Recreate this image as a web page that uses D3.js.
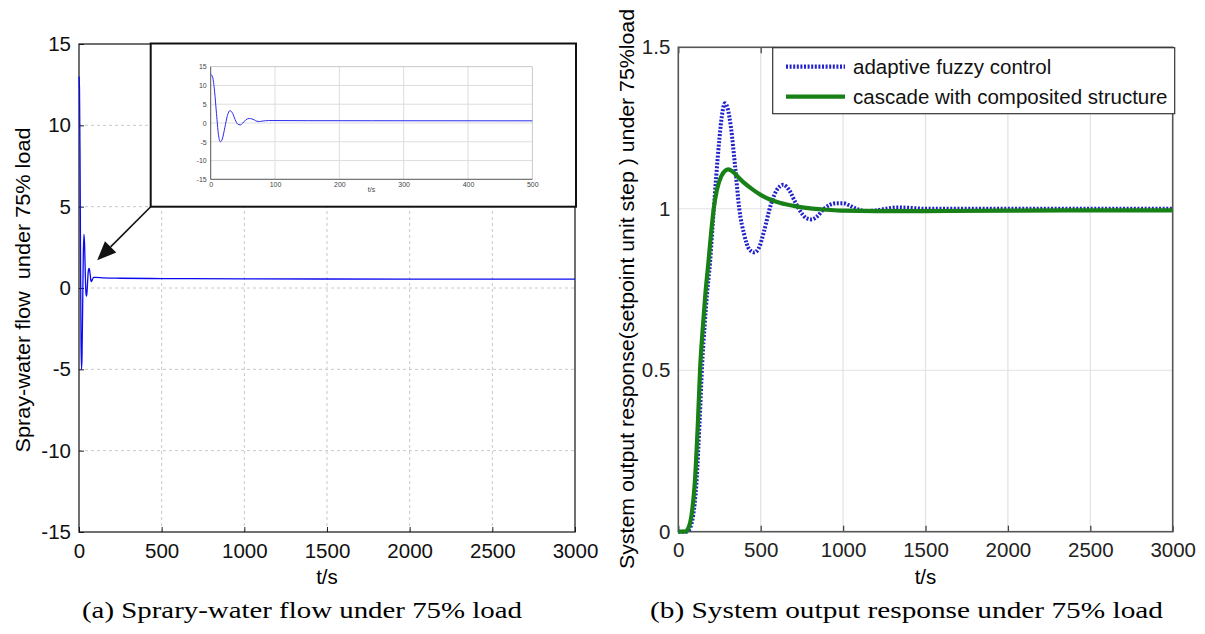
<!DOCTYPE html>
<html>
<head>
<meta charset="utf-8">
<script src="https://cdn.jsdelivr.net/npm/d3@7"></script>
<style>
  body { margin: 0; background: #fff; }
  text { font-family: "Liberation Sans", Arial, sans-serif; }
</style>
</head>
<body>
<script>
'use strict';

// ---- data ----

// (a) spray-water flow, blue curve
const sprayT = [0, 3, 6, 9, 12, 15, 18, 22, 26, 30, 34, 38, 42, 46, 50, 55, 60, 64, 68, 72, 76, 80, 85, 90, 100, 150, 250, 500, 1000, 2000, 3000];
const sprayV = [13.0, 12.2, 8.5, 2.5, -3.0, -5.0, -4.3, -1.2, 2.0, 3.3, 2.6, 0.9, -0.3, -0.5, 0.0, 0.9, 1.2, 1.1, 0.8, 0.45, 0.4, 0.5, 0.6, 0.65, 0.65, 0.62, 0.6, 0.58, 0.56, 0.55, 0.55];

// (b) step response, adaptive fuzzy control (blue dotted)
const fuzzyT = [0, 50, 70, 90, 110, 130, 145, 160, 175, 192, 210, 230, 250, 265, 283, 300, 320, 345, 370, 400, 430, 461, 490, 520, 560, 600, 637, 670, 710, 750, 780, 809, 840, 880, 920, 960, 1001, 1040, 1080, 1143, 1200, 1260, 1320, 1400, 1500, 1700, 2000, 2500, 3000];
const fuzzyV = [0, 0, 0.01, 0.05, 0.15, 0.35, 0.52, 0.64, 0.74, 0.83, 0.96, 1.1, 1.22, 1.29, 1.327, 1.31, 1.25, 1.13, 1.0, 0.92, 0.875, 0.865, 0.88, 0.93, 1.01, 1.06, 1.074, 1.06, 1.02, 0.985, 0.97, 0.967, 0.975, 0.998, 1.012, 1.017, 1.017, 1.01, 1.0, 0.993, 0.995, 1.0, 1.004, 1.003, 1.0, 1.0, 1.0, 1.0, 1.0];

// (b) cascade with composited structure (green solid)
const cascadeT = [0, 40, 60, 80, 100, 120, 132, 150, 165, 182, 200, 215, 235, 260, 285, 303, 330, 360, 400, 450, 500, 560, 620, 700, 800, 900, 1000, 1200, 1500, 2000, 2500, 3000];
const cascadeV = [0, 0, 0.01, 0.05, 0.15, 0.35, 0.5, 0.64, 0.74, 0.83, 0.93, 1.0, 1.06, 1.1, 1.118, 1.122, 1.115, 1.1, 1.08, 1.06, 1.043, 1.028, 1.018, 1.009, 1.001, 0.997, 0.994, 0.993, 0.993, 0.994, 0.995, 0.995];

// ticks
const xTicks = [0, 500, 1000, 1500, 2000, 2500, 3000];
const yTicksA = [-15, -10, -5, 0, 5, 10, 15];
const yTicksB = [0, 0.5, 1, 1.5];
const insetXTicks = [0, 100, 200, 300, 400, 500];

// texts
const legendNames = ["adaptive fuzzy control", "cascade with composited structure"];
const captionA = "(a) Sprary-water flow under 75% load";
const captionB = "(b) System output response under 75% load";

const W = 1205, H = 634;
const FS = 20.5;
const plain = function(d) { return String(d); };

let svg = d3.select("body").append("svg")
    .attr("width", W)
    .attr("height", H);

function toPoints(ts, vs) {
    return ts.map(function(t, i) { return {t: t, v: vs[i]}; });
}

// ================= panel (a) =================
function panelA() {
    let x = d3.scaleLinear().domain([0, 3000]).range([79, 575]);
    let y = d3.scaleLinear().domain([-15, 15]).range([532, 44]);
    let g = svg.append("g");

    // dashed grid
    g.append("g").selectAll("line").data(xTicks.slice(1, -1)).enter().append("line")
        .attr("x1", x).attr("x2", x).attr("y1", y(-15)).attr("y2", y(15))
        .attr("stroke", "#c8c8c8").attr("stroke-dasharray", "3,3");
    g.append("g").selectAll("line").data(yTicksA.slice(1, -1)).enter().append("line")
        .attr("y1", y).attr("y2", y).attr("x1", x(0)).attr("x2", x(3000))
        .attr("stroke", "#c8c8c8").attr("stroke-dasharray", "3,3");

    // axes
    let ax = g.append("g").attr("transform", "translate(0," + y(-15) + ")")
        .call(d3.axisBottom(x).tickValues(xTicks).tickSize(-5).tickPadding(11).tickFormat(plain));
    let ay = g.append("g").attr("transform", "translate(" + x(0) + ",0)")
        .call(d3.axisLeft(y).tickValues(yTicksA).tickSize(-5).tickPadding(8).tickFormat(plain));
    [ax, ay].forEach(function(a) {
        a.select(".domain").remove();
        a.selectAll("text").style("font-size", FS + "px").attr("fill", "#111");
        a.selectAll("line").attr("stroke", "#222");
    });

    // frame
    g.append("rect")
        .attr("x", x(0)).attr("y", y(15))
        .attr("width", x(3000) - x(0)).attr("height", y(-15) - y(15))
        .attr("fill", "none").attr("stroke", "#111").attr("stroke-width", 1.2);

    // curve
    let line = d3.line()
        .x(function(d) { return x(d.t); })
        .y(function(d) { return y(d.v); })
        .curve(d3.curveMonotoneX);
    g.append("path")
        .datum(toPoints(sprayT, sprayV))
        .attr("d", line)
        .attr("fill", "none")
        .attr("stroke", "#0a0af0")
        .attr("stroke-width", 1.3);

    // labels
    g.append("text")
        .attr("x", (x(0) + x(3000)) / 2).attr("y", 584)
        .attr("text-anchor", "middle").style("font-size", FS + "px")
        .text("t/s");
    g.append("text")
        .attr("transform", "translate(30,290) rotate(-90)")
        .attr("text-anchor", "middle").style("font-size", FS + "px")
        .style("white-space", "pre")
        .attr("textLength", 325).attr("lengthAdjust", "spacingAndGlyphs")
        .text("Spray-water flow  under 75% load");

    // ---- zoomed inset ----
    let box = {x0: 150.7, y0: 43.5, x1: 576, y1: 206.7};
    g.append("rect")
        .attr("x", box.x0).attr("y", box.y0)
        .attr("width", box.x1 - box.x0).attr("height", box.y1 - box.y0)
        .attr("fill", "#fff").attr("stroke", "#111").attr("stroke-width", 2);

    let xi = d3.scaleLinear().domain([0, 500]).range([210.7, 532.3]);
    let yi = d3.scaleLinear().domain([-15, 15]).range([179.3, 66.7]);
    let gi = g.append("g");
    gi.append("g").selectAll("line").data(insetXTicks.slice(1, -1)).enter().append("line")
        .attr("x1", xi).attr("x2", xi).attr("y1", yi(-15)).attr("y2", yi(15))
        .attr("stroke", "#dedede");
    gi.append("g").selectAll("line").data(yTicksA.slice(1, -1)).enter().append("line")
        .attr("y1", yi).attr("y2", yi).attr("x1", xi(0)).attr("x2", xi(500))
        .attr("stroke", "#dedede");
    gi.append("rect")
        .attr("x", xi(0)).attr("y", yi(15))
        .attr("width", xi(500) - xi(0)).attr("height", yi(-15) - yi(15))
        .attr("fill", "none").attr("stroke", "#bbb").attr("stroke-width", 0.8);
    gi.append("path")
        .attr("d", "M" + xi(0) + "," + yi(15) + "V" + yi(-15) + "H" + xi(500))
        .attr("fill", "none").attr("stroke", "#444").attr("stroke-width", 0.8);

    let ix = gi.append("g").attr("transform", "translate(0," + yi(-15) + ")")
        .call(d3.axisBottom(xi).tickValues(insetXTicks).tickSize(0).tickPadding(3).tickFormat(plain));
    let iy = gi.append("g").attr("transform", "translate(" + xi(0) + ",0)")
        .call(d3.axisLeft(yi).tickValues(yTicksA).tickSize(0).tickPadding(4).tickFormat(plain));
    [ix, iy].forEach(function(a) {
        a.select(".domain").remove();
        a.selectAll("text").style("font-size", "7px").attr("fill", "#444");
    });
    gi.append("text")
        .attr("x", (xi(0) + xi(500)) / 2).attr("y", 192)
        .attr("text-anchor", "middle").style("font-size", "7px").attr("fill", "#444")
        .text("t/s");

    let linei = d3.line()
        .x(function(d) { return xi(d.t); })
        .y(function(d) { return yi(d.v); })
        .curve(d3.curveMonotoneX);
    gi.append("path")
        .datum(toPoints(sprayT, sprayV).filter(function(d) { return d.t <= 500; }))
        .attr("d", linei)
        .attr("fill", "none")
        .attr("stroke", "#2a2af0")
        .attr("stroke-width", 1);

    // arrow from inset corner to the oscillation
    let tip = [x(110), y(1.7)];
    let start = [box.x0, box.y1];
    let dx = tip[0] - start[0], dy = tip[1] - start[1];
    let len = Math.sqrt(dx * dx + dy * dy);
    let ux = dx / len, uy = dy / len;
    let headL = 19, headW = 8;
    let base = [tip[0] - ux * headL, tip[1] - uy * headL];
    g.append("line")
        .attr("x1", start[0]).attr("y1", start[1])
        .attr("x2", base[0]).attr("y2", base[1])
        .attr("stroke", "#111").attr("stroke-width", 1.6);
    g.append("path")
        .attr("d", "M" + tip[0] + "," + tip[1] +
            "L" + (base[0] - uy * headW) + "," + (base[1] + ux * headW) +
            "L" + (base[0] + uy * headW) + "," + (base[1] - ux * headW) + "Z")
        .attr("fill", "#111");
}

// ================= panel (b) =================
function panelB() {
    let x = d3.scaleLinear().domain([0, 3000]).range([678.3, 1172.7]);
    let y = d3.scaleLinear().domain([0, 1.5]).range([531.7, 47.3]);
    let g = svg.append("g");

    // solid light grid
    g.append("g").selectAll("line").data(xTicks.slice(1, -1)).enter().append("line")
        .attr("x1", x).attr("x2", x).attr("y1", y(0)).attr("y2", y(1.5))
        .attr("stroke", "#e2e2e2").attr("stroke-width", 1.2);
    g.append("g").selectAll("line").data(yTicksB.slice(1, -1)).enter().append("line")
        .attr("y1", y).attr("y2", y).attr("x1", x(0)).attr("x2", x(3000))
        .attr("stroke", "#e2e2e2").attr("stroke-width", 1.2);

    let ax = g.append("g").attr("transform", "translate(0," + y(0) + ")")
        .call(d3.axisBottom(x).tickValues(xTicks).tickSize(-6).tickPadding(11).tickFormat(plain));
    let axTop = g.append("g").attr("transform", "translate(0," + y(1.5) + ")")
        .call(d3.axisTop(x).tickValues(xTicks).tickSize(-6).tickFormat(""));
    let ay = g.append("g").attr("transform", "translate(" + x(0) + ",0)")
        .call(d3.axisLeft(y).tickValues(yTicksB).tickSize(0).tickPadding(8).tickFormat(plain));
    [ax, axTop, ay].forEach(function(a) {
        a.select(".domain").remove();
        a.selectAll("text").style("font-size", FS + "px").attr("fill", "#222");
        a.selectAll("line").attr("stroke", "#444").attr("stroke-width", 1.3);
    });

    g.append("rect")
        .attr("x", x(0)).attr("y", y(1.5))
        .attr("width", x(3000) - x(0)).attr("height", y(0) - y(1.5))
        .attr("fill", "none").attr("stroke", "#555").attr("stroke-width", 1.6);

    let line = d3.line()
        .x(function(d) { return x(d.t); })
        .y(function(d) { return y(d.v); })
        .curve(d3.curveMonotoneX);

    g.append("path")
        .datum(toPoints(fuzzyT, fuzzyV))
        .attr("d", line)
        .attr("fill", "none")
        .attr("stroke", "#2222cc")
        .attr("stroke-width", 4)
        .attr("stroke-dasharray", "2,1.6");
    g.append("path")
        .datum(toPoints(cascadeT, cascadeV))
        .attr("d", line)
        .attr("fill", "none")
        .attr("stroke", "#178017")
        .attr("stroke-width", 4.2);

    // legend
    let lg = g.append("g");
    lg.append("rect")
        .attr("x", 772.7).attr("y", 47.7)
        .attr("width", 402).attr("height", 66)
        .attr("fill", "#fff").attr("stroke", "#333").attr("stroke-width", 1.2);
    let styles = [
        {stroke: "#2222cc", dash: "2,1.6"},
        {stroke: "#178017", dash: null}
    ];
    legendNames.forEach(function(name, i) {
        let ly = 66.7 + i * 30;
        lg.append("line")
            .attr("x1", 786).attr("x2", 845).attr("y1", ly).attr("y2", ly)
            .attr("stroke", styles[i].stroke).attr("stroke-width", 4.2)
            .attr("stroke-dasharray", styles[i].dash);
        lg.append("text")
            .attr("x", 853).attr("y", ly + 7)
            .style("font-size", FS + "px").attr("fill", "#111")
            .text(name);
    });

    g.append("text")
        .attr("x", (x(0) + x(3000)) / 2).attr("y", 584)
        .attr("text-anchor", "middle").style("font-size", FS + "px")
        .text("t/s");
    g.append("text")
        .attr("transform", "translate(634,289) rotate(-90)")
        .attr("text-anchor", "middle").style("font-size", FS + "px")
        .attr("textLength", 560).attr("lengthAdjust", "spacingAndGlyphs")
        .text("System output response(setpoint unit step ) under 75%load");
}

panelA();
panelB();

// captions
svg.append("text")
    .attr("x", 82).attr("y", 618)
    .style("font-family", "'Liberation Serif', 'DejaVu Serif', serif")
    .style("font-size", "23px")
    .attr("textLength", 440).attr("lengthAdjust", "spacingAndGlyphs")
    .text(captionA);
svg.append("text")
    .attr("x", 650).attr("y", 618)
    .style("font-family", "'Liberation Serif', 'DejaVu Serif', serif")
    .style("font-size", "23px")
    .attr("textLength", 513).attr("lengthAdjust", "spacingAndGlyphs")
    .text(captionB);
</script>
</body>
</html>
